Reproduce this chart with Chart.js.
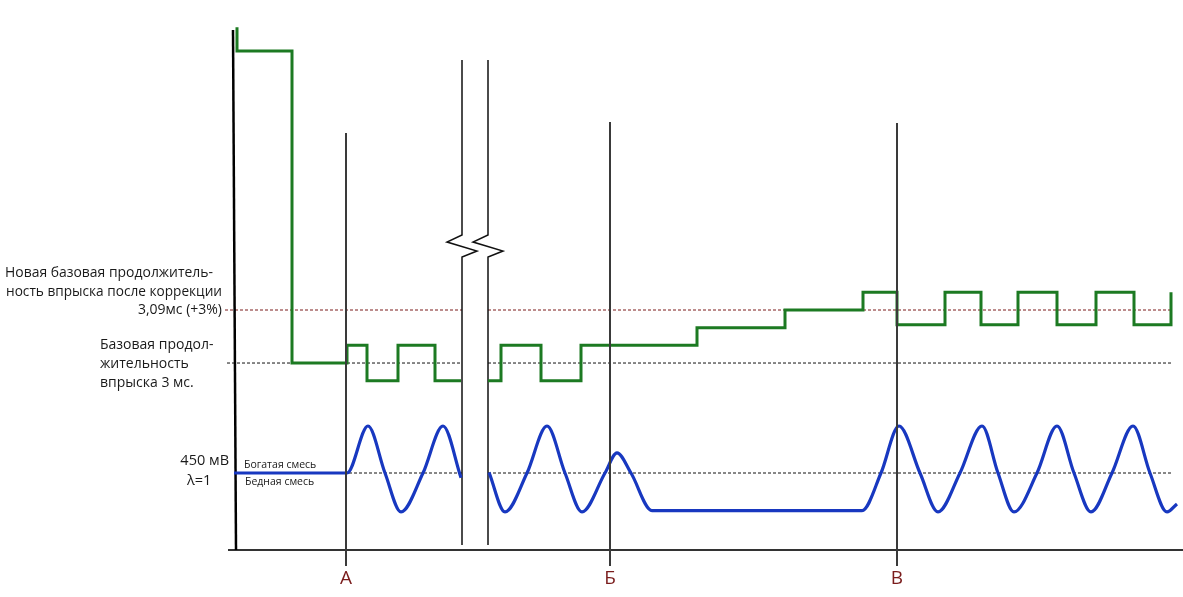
<!DOCTYPE html>
<html>
<head>
<meta charset="utf-8">
<script src="https://cdn.jsdelivr.net/npm/chart.js@4"></script>
<style>
  html, body { margin: 0; padding: 0; background: #fff; }
  canvas { display: block; }
</style>
</head>
<body>
<canvas id="myChart" width="1183" height="597"></canvas>
<script>
// Время (условные единицы по горизонтали)
var injX  = [237, 237, 292, 347, 367, 398, 435, 461, 475, 488, 501, 541, 581, 697, 785, 863, 897, 945, 981, 1018, 1057, 1096, 1134, 1171];
// Длительность впрыска, мс
var injMs = [3.57, 3.53, 3.00, 3.03, 2.97, 3.03, 2.97, 2.97, null, 2.97, 3.03, 2.97, 3.03, 3.06, 3.09, 3.12, 3.065, 3.12, 3.065, 3.12, 3.065, 3.12, 3.065, 3.12];

// Сигнал лямбда-зонда, мВ
var o2X  = [234, 347, 368, 385, 401, 423, 443, 461, 475, 489, 505, 527, 547, 565, 582, 605, 617, 631, 652, 862, 881, 899, 920, 938, 960, 982, 998, 1014, 1037, 1057, 1074, 1091, 1112, 1133, 1150, 1167, 1177];
var o2Mv = [450, 450, 800, 450, 160, 450, 800, 415, null, 455, 160, 450, 800, 450, 160, 450, 600, 450, 170, 170, 450, 800, 450, 160, 450, 800, 450, 160, 450, 800, 450, 160, 450, 800, 450, 160, 220];

// Опорные уровни
var baseMs = 3.00;
var newBaseMs = 3.09;
var lambdaMv = 450;

// Моменты А, Б, В и разрыв оси времени
var markerX = [346, 610, 897];
var markerLabels = ['А', 'Б', 'В'];
var breakX = [462, 488];

function pts(xs, ys) {
  return xs.map(function (x, i) { return { x: x, y: ys[i] }; });
}

function refLine(y, x0) {
  return [{ x: x0, y: y }, { x: breakX[0], y: y }, { x: 475, y: null }, { x: breakX[1], y: y }, { x: 1173, y: y }];
}

function breakLine(x) {
  return [{ x: x, y: 490 }, { x: x, y: 315 }, { x: x - 15, y: 308 }, { x: x + 15, y: 299 }, { x: x, y: 293 }, { x: x, y: 5 }];
}

var ctx = document.getElementById('myChart').getContext('2d');

var datasets = [{
  label: 'Длительность впрыска',
  data: pts(injX, injMs),
  yAxisID: 'yMs',
  stepped: 'before',
  borderColor: '#1c7a22',
  borderWidth: 3,
  pointRadius: 0,
  order: 1
}, {
  label: 'Лямбда-зонд',
  data: pts(o2X, o2Mv),
  yAxisID: 'yMv',
  cubicInterpolationMode: 'monotone',
  borderColor: '#1838c0',
  borderWidth: 3.2,
  pointRadius: 0,
  order: 2
}, {
  data: refLine(newBaseMs, 225),
  yAxisID: 'yMs',
  borderColor: '#7a1a1a',
  borderWidth: 1,
  borderDash: [3, 2],
  pointRadius: 0,
  order: 5
}, {
  data: refLine(baseMs, 227),
  yAxisID: 'yMs',
  borderColor: '#111',
  borderWidth: 1,
  borderDash: [3, 2],
  pointRadius: 0,
  order: 5
}, {
  data: refLine(lambdaMv, 234),
  yAxisID: 'yMv',
  borderColor: '#111',
  borderWidth: 1,
  borderDash: [3, 2],
  pointRadius: 0,
  order: 5
}, {
  // ось Y
  data: [{ x: 233, y: 520 }, { x: 236, y: 0 }],
  yAxisID: 'yFrame',
  borderColor: '#000',
  borderWidth: 2.5,
  pointRadius: 0,
  order: 4
}, {
  // ось времени
  data: [{ x: 228, y: 0 }, { x: 1183, y: 0 }],
  yAxisID: 'yFrame',
  borderColor: '#333',
  borderWidth: 2,
  pointRadius: 0,
  order: 4
}];

var markerTop = [417, 428, 427];
markerX.forEach(function (x, i) {
  datasets.push({
    data: [{ x: x, y: markerTop[i] }, { x: x, y: -16 }],
    yAxisID: 'yFrame',
    borderColor: '#3a3a3a',
    borderWidth: 2,
    pointRadius: 0,
    order: 0
  });
});
breakX.forEach(function (x) {
  datasets.push({
    data: breakLine(x),
    yAxisID: 'yFrame',
    borderColor: '#111',
    borderWidth: 1.5,
    pointRadius: 0,
    order: 3
  });
});

// подписи
var textPlugin = {
  id: 'labels',
  afterDatasetsDraw: function (chart) {
    var c = chart.ctx;
    var sx = chart.scales.x, sf = chart.scales.yFrame, sms = chart.scales.yMs, smv = chart.scales.yMv;
    var font = '"Open Sans", sans-serif';
    function txt(t, x, y, align, size, color, maxW) {
      c.save();
      c.font = size + 'px ' + font;
      c.fillStyle = color || '#1a1a1a';
      c.textAlign = align;
      c.textBaseline = 'middle';
      if (maxW) c.fillText(t, x, y, maxW); else c.fillText(t, x, y);
      c.restore();
    }
    var x = function (v) { return sx.getPixelForValue(v); };
    var f = function (v) { return sf.getPixelForValue(v); };

    txt('Новая базовая продолжитель-', x(5), f(277), 'left', 14, null, 208);
    txt('ность впрыска после коррекции', x(222), f(258), 'right', 14, null, 216);
    txt('3,09мс (+3%)', x(222), sms.getPixelForValue(newBaseMs), 'right', 14);

    txt('Базовая продол-', x(100), f(205), 'left', 14);
    txt('жительность', x(100), f(186), 'left', 14);
    txt('впрыска 3 мс.', x(100), f(167), 'left', 14);

    txt('450 мВ', x(229), f(89), 'right', 14.5);
    txt('λ=1', x(187), f(69), 'left', 14.5);
    txt('Богатая смесь', x(244), smv.getPixelForValue(lambdaMv) - 8, 'left', 10.5);
    txt('Бедная смесь', x(245), smv.getPixelForValue(lambdaMv) + 9, 'left', 10.5);

    markerX.forEach(function (mx, i) {
      txt(markerLabels[i], x(mx), f(-29), 'center', 19, '#7a1c1c');
    });
  }
};

new Chart(ctx, {
  type: 'line',
  data: { datasets: datasets },
  options: {
    responsive: false,
    animation: false,
    spanGaps: false,
    layout: { padding: 0 },
    plugins: { legend: { display: false }, tooltip: { enabled: false } },
    scales: {
      x: { type: 'linear', display: false, min: 0, max: 1183 },
      yMs: { type: 'linear', display: false, min: 2.6027, max: 3.6164 },
      yMv: { type: 'linear', display: false, min: -473.4, max: 3972.4 },
      yFrame: { type: 'linear', display: false, min: -47, max: 550 }
    }
  },
  plugins: [textPlugin]
});
</script>
</body>
</html>
